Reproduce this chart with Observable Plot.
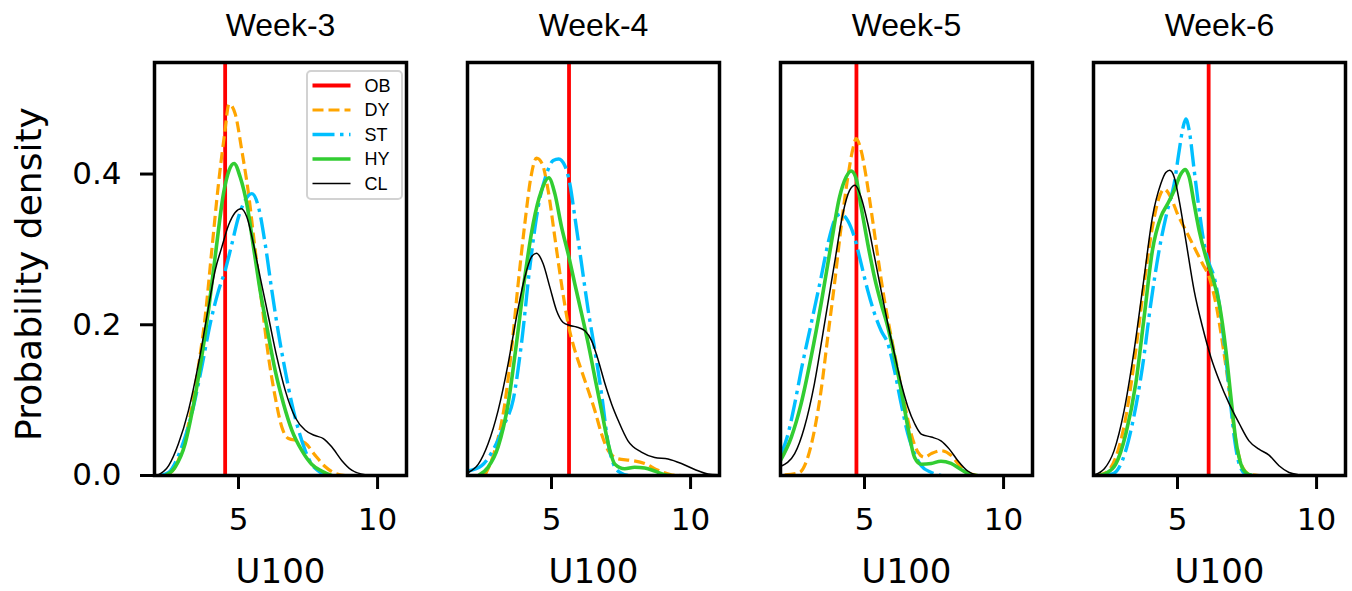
<!DOCTYPE html>
<html>
<head>
<meta charset="utf-8">
<script src="https://cdn.jsdelivr.net/npm/d3@7"></script>
<script src="https://cdn.jsdelivr.net/npm/@observablehq/plot@0.6"></script>
<style>
  html, body { margin: 0; padding: 0; background: #fff; }
  #chart { position: relative; width: 1352px; height: 591px; }
  #legend { position: absolute; box-sizing: border-box; background: rgba(255,255,255,0.85); border: 2.5px solid #d2d2d2; border-radius: 5px; }
  #legend svg { display: block; overflow: visible; }
</style>
</head>
<body>
<div id="chart"></div>
<script>
// ---------- data ----------
const weeks = ["Week-3", "Week-4", "Week-5", "Week-6"];
const seriesNames = ["OB", "DY", "ST", "HY", "CL"];
const seriesColors = ["#ff0000", "#ffa500", "#00bfff", "#32cd32", "#000000"];
const seriesWidths = [3.8, 3.2, 3.4, 3.6, 1.5];
const seriesDash = [null, "11,5", "22,5.5,3.5,5.5", null, null];
const obValues = [4.52, 5.63, 4.71, 6.12];   // observed U100 per week
const xTicks = [5, 10];
const yTicks = [0, 0.2, 0.4];
const xLabel = "U100";
const yLabel = "Probability density";

// density curves [U100, density], one list per week
const dyCurves = [
  [[2.43,0],[2.72,0.011],[2.96,0.033],[3.32,0.09],[3.56,0.145],[3.80,0.21],[4.04,0.299],[4.28,0.387],[4.50,0.453],[4.66,0.493],[4.88,0.48],[5.12,0.431],[5.36,0.374],[5.60,0.299],[5.84,0.228],[6.08,0.157],[6.32,0.104],[6.56,0.064],[6.80,0.049],[7.16,0.046],[7.40,0.043],[7.75,0.027],[8.11,0.012],[8.47,0.003],[8.83,0]],
  [[2.60,0],[2.96,0.033],[3.32,0.095],[3.56,0.166],[3.80,0.254],[4.04,0.334],[4.26,0.396],[4.46,0.421],[4.66,0.414],[4.88,0.378],[5.12,0.316],[5.36,0.254],[5.60,0.201],[5.84,0.166],[6.08,0.139],[6.32,0.113],[6.56,0.086],[6.80,0.055],[7.04,0.033],[7.40,0.022],[7.87,0.02],[8.35,0.016],[8.83,0.007],[9.31,0.001],[9.67,0]],
  [[2.13,0.001],[2.66,0.004],[2.96,0.024],[3.20,0.06],[3.44,0.113],[3.68,0.184],[3.92,0.254],[4.16,0.33],[4.40,0.396],[4.58,0.433],[4.70,0.447],[4.88,0.431],[5.06,0.396],[5.24,0.352],[5.48,0.29],[5.72,0.232],[5.96,0.184],[6.20,0.139],[6.44,0.095],[6.68,0.055],[6.92,0.031],[7.16,0.024],[7.40,0.029],[7.75,0.033],[8.11,0.027],[8.47,0.011],[8.83,0.002],[9.19,0]],
  [[2.10,0],[2.43,0.004],[2.78,0.024],[3.14,0.077],[3.50,0.166],[3.80,0.254],[4.10,0.33],[4.34,0.369],[4.52,0.38],[4.76,0.369],[5.00,0.347],[5.30,0.325],[5.60,0.303],[5.90,0.281],[6.14,0.263],[6.38,0.228],[6.62,0.175],[6.86,0.113],[7.10,0.046],[7.34,0.011],[7.57,0.002],[7.93,0]]
];
const stCurves = [
  [[2.20,0],[2.49,0.004],[2.96,0.038],[3.32,0.082],[3.68,0.144],[3.98,0.201],[4.28,0.245],[4.52,0.272],[4.76,0.307],[5.00,0.343],[5.24,0.365],[5.48,0.374],[5.72,0.356],[5.96,0.307],[6.20,0.245],[6.44,0.188],[6.68,0.139],[6.92,0.095],[7.16,0.06],[7.40,0.033],[7.63,0.015],[7.87,0.006],[8.23,0]],
  [[2.01,0.006],[2.49,0.013],[2.96,0.038],[3.32,0.069],[3.62,0.10],[3.92,0.175],[4.22,0.276],[4.52,0.356],[4.82,0.40],[5.06,0.418],[5.26,0.42],[5.48,0.411],[5.66,0.387],[5.84,0.343],[6.08,0.281],[6.32,0.219],[6.56,0.166],[6.80,0.108],[7.04,0.042],[7.28,0.011],[7.51,0.003],[7.75,0]],
  [[1.98,0.026],[2.25,0.055],[2.49,0.095],[2.72,0.139],[3.08,0.201],[3.44,0.263],[3.74,0.316],[3.98,0.343],[4.16,0.347],[4.40,0.338],[4.64,0.316],[4.88,0.281],[5.12,0.245],[5.36,0.215],[5.60,0.192],[5.84,0.175],[6.08,0.139],[6.32,0.095],[6.56,0.055],[6.80,0.029],[7.04,0.013],[7.40,0.004],[7.75,0]],
  [[2.30,0],[2.66,0.002],[3.02,0.02],[3.38,0.069],[3.74,0.144],[4.04,0.228],[4.34,0.299],[4.64,0.352],[4.88,0.387],[5.06,0.431],[5.20,0.462],[5.30,0.473],[5.42,0.458],[5.60,0.405],[5.78,0.352],[5.96,0.307],[6.14,0.281],[6.32,0.263],[6.50,0.228],[6.68,0.175],[6.86,0.113],[7.04,0.051],[7.22,0.015],[7.45,0.002],[7.69,0]]
];
const hyCurves = [
  [[2.37,0],[2.72,0.011],[3.08,0.042],[3.32,0.082],[3.62,0.144],[3.92,0.219],[4.19,0.299],[4.46,0.374],[4.66,0.405],[4.84,0.414],[5.06,0.396],[5.30,0.36],[5.54,0.303],[5.78,0.245],[6.02,0.197],[6.32,0.139],[6.62,0.095],[6.92,0.06],[7.28,0.033],[7.63,0.015],[7.99,0.006],[8.35,0]],
  [[2.37,0],[2.72,0.011],[3.08,0.038],[3.44,0.095],[3.74,0.175],[4.04,0.263],[4.34,0.334],[4.64,0.378],[4.90,0.395],[5.12,0.374],[5.36,0.33],[5.60,0.294],[5.84,0.254],[6.08,0.215],[6.32,0.175],[6.56,0.13],[6.80,0.086],[7.04,0.042],[7.28,0.015],[7.63,0.009],[7.99,0.011],[8.35,0.01],[8.71,0.006],[9.07,0.001],[9.31,0]],
  [[1.98,0.02],[2.37,0.051],[2.72,0.095],[3.08,0.157],[3.44,0.228],[3.80,0.307],[4.10,0.369],[4.34,0.396],[4.52,0.404],[4.70,0.394],[4.88,0.356],[5.12,0.307],[5.36,0.263],[5.60,0.228],[5.84,0.197],[6.08,0.157],[6.32,0.113],[6.56,0.064],[6.80,0.024],[7.04,0.015],[7.40,0.016],[7.75,0.019],[8.11,0.016],[8.47,0.008],[8.83,0.001],[9.07,0]],
  [[2.20,0],[2.43,0.003],[2.78,0.015],[3.14,0.055],[3.50,0.122],[3.80,0.21],[4.10,0.299],[4.40,0.343],[4.64,0.36],[4.88,0.378],[5.12,0.40],[5.28,0.406],[5.42,0.396],[5.60,0.36],[5.78,0.325],[6.02,0.29],[6.26,0.263],[6.50,0.228],[6.74,0.166],[6.92,0.104],[7.10,0.046],[7.28,0.015],[7.45,0.004],[7.69,0]]
];
const clCurves = [
  [[2.07,0],[2.49,0.013],[2.84,0.042],[3.20,0.086],[3.56,0.148],[3.92,0.223],[4.16,0.272],[4.40,0.303],[4.64,0.332],[4.88,0.349],[5.10,0.354],[5.30,0.343],[5.54,0.307],[5.78,0.263],[6.08,0.21],[6.38,0.157],[6.68,0.113],[7.04,0.077],[7.40,0.06],[7.75,0.053],[8.05,0.049],[8.35,0.038],[8.71,0.02],[9.07,0.007],[9.55,0.001],[9.90,0]],
  [[2.01,0.004],[2.37,0.015],[2.72,0.042],[3.08,0.086],[3.44,0.148],[3.74,0.21],[4.04,0.263],[4.28,0.29],[4.46,0.295],[4.70,0.281],[4.94,0.25],[5.18,0.219],[5.42,0.203],[5.66,0.199],[5.90,0.197],[6.20,0.192],[6.44,0.179],[6.68,0.153],[6.92,0.122],[7.16,0.095],[7.40,0.073],[7.75,0.046],[8.23,0.031],[8.71,0.024],[9.19,0.022],[9.67,0.016],[10.15,0.008],[10.63,0.002],[10.99,0.001]],
  [[1.98,0.012],[2.49,0.029],[2.84,0.064],[3.20,0.122],[3.56,0.201],[3.92,0.281],[4.22,0.347],[4.46,0.378],[4.66,0.385],[4.88,0.369],[5.12,0.334],[5.36,0.29],[5.60,0.245],[5.84,0.201],[6.08,0.161],[6.32,0.122],[6.56,0.091],[6.80,0.069],[7.04,0.055],[7.40,0.051],[7.75,0.046],[8.05,0.035],[8.35,0.02],[8.71,0.006],[9.07,0]],
  [[2.01,0.001],[2.37,0.009],[2.72,0.033],[3.08,0.086],[3.44,0.166],[3.80,0.263],[4.10,0.343],[4.40,0.387],[4.58,0.402],[4.72,0.405],[4.88,0.396],[5.06,0.365],[5.30,0.312],[5.60,0.245],[5.90,0.197],[6.20,0.157],[6.50,0.126],[6.86,0.095],[7.22,0.069],[7.57,0.046],[7.93,0.035],[8.29,0.027],[8.65,0.013],[9.01,0.004],[9.37,0.001],[9.73,0]]
];

// ---------- tables ----------
const curveSets = {DY: dyCurves, ST: stCurves, HY: hyCurves, CL: clCurves};
const rows = [];
weeks.forEach((w, i) => {
  for (const [name, sets] of Object.entries(curveSets)) {
    for (const [x, y] of sets[i]) rows.push({week: w, series: name, x, y});
  }
});
const obRows = weeks.map((w, i) => ({week: w, series: "OB", x: obValues[i]}));

function styleOf(name) {
  const i = seriesNames.indexOf(name);
  const s = {stroke: seriesColors[i], strokeWidth: seriesWidths[i]};
  if (seriesDash[i]) s.strokeDasharray = seriesDash[i];
  return s;
}
function curveMark(name) {
  return Plot.line(rows.filter(d => d.series === name), {
    x: "x", y: "y", fx: "week", curve: "monotone-x", clip: true,
    strokeLinecap: "butt", strokeLinejoin: "round", ...styleOf(name)
  });
}

const plot = Plot.plot({
  width: 1352,
  height: 591,
  marginLeft: 153,
  marginRight: 6,
  marginTop: 62,
  marginBottom: 116,
  style: {fontFamily: "'DejaVu Sans', sans-serif", background: "#fff", color: "#000"},
  fx: {domain: weeks, paddingInner: 0.195, paddingOuter: 0, axis: null, label: null},
  x: {domain: [1.98, 11.04]},
  y: {domain: [0, 0.548]},
  marks: [
    Plot.ruleX(obRows, {x: "x", fx: "week", ...styleOf("OB")}),
    curveMark("DY"),
    curveMark("ST"),
    curveMark("HY"),
    curveMark("CL"),
    Plot.frame({stroke: "#000", strokeWidth: 3.5}),
    Plot.axisX({ticks: xTicks, tickSize: 14, tickPadding: 18, fontSize: 31, strokeWidth: 3, label: null}),
    Plot.axisY({ticks: yTicks, tickFormat: d3.format(".1f"), tickSize: 14, tickPadding: 19, fontSize: 31, strokeWidth: 3, label: null}),
    Plot.text(weeks, {fx: d => d, text: d => d, frameAnchor: "top", lineAnchor: "bottom", dy: -27,
      fontSize: 32, fontFamily: "'Liberation Sans', Arial, sans-serif", fill: "#000"}),
    Plot.text(weeks, {fx: d => d, text: () => xLabel, frameAnchor: "bottom", lineAnchor: "bottom", dy: 107,
      fontSize: 34, fill: "#000"}),
    Plot.text([yLabel], {fx: () => weeks[0], text: d => d, frameAnchor: "left", textAnchor: "middle",
      lineAnchor: "middle", rotate: -90, dx: -125, dy: 5, fontSize: 36, fill: "#000"})
  ]
});

const wrap = document.getElementById("chart");
wrap.appendChild(plot);

// ---------- legend, placed in the first panel's upper-right corner ----------
const wrapBox = wrap.getBoundingClientRect();
const frames = Array.from(plot.querySelectorAll('g[aria-label="frame"] rect'))
  .map(r => r.getBoundingClientRect())
  .sort((a, b) => a.left - b.left);
const f0 = frames[0];
const legW = 97, legH = 130, border = 2.5;
const legend = document.createElement("div");
legend.id = "legend";
legend.style.left = (f0.right - wrapBox.left - 4 - legW) + "px";
legend.style.top = (f0.top - wrapBox.top + 7) + "px";
legend.style.width = legW + "px";
legend.style.height = legH + "px";
wrap.appendChild(legend);

const lsvg = d3.select(legend).append("svg")
  .attr("width", legW - 2 * border)
  .attr("height", legH - 2 * border);
seriesNames.forEach((name, i) => {
  const cy = 16 + 24.5 * i - border;
  const st = styleOf(name);
  lsvg.append("line")
    .attr("x1", 7 - border).attr("x2", 45 - border)
    .attr("y1", cy).attr("y2", cy)
    .attr("stroke", st.stroke)
    .attr("stroke-width", st.strokeWidth)
    .attr("stroke-dasharray", st.strokeDasharray || null);
  lsvg.append("text")
    .attr("x", 59 - border).attr("y", cy)
    .attr("dy", "0.35em")
    .attr("font-family", "'Liberation Sans', Arial, sans-serif")
    .attr("font-size", 18)
    .attr("fill", "#000")
    .text(name);
});
</script>
</body>
</html>
